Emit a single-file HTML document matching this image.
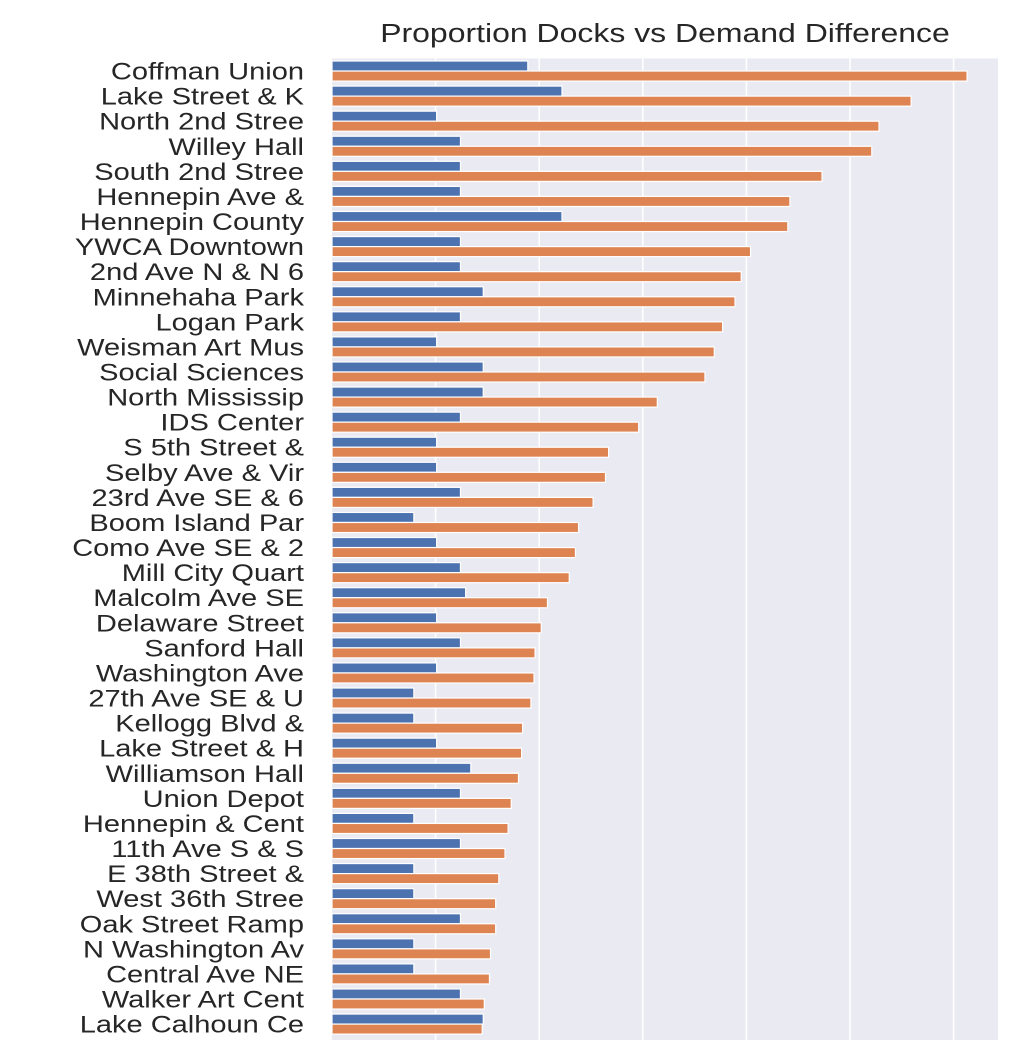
<!DOCTYPE html>
<html><head><meta charset="utf-8"><style>
html,body{margin:0;padding:0;background:#fff;}
svg{display:block;font-family:"Liberation Sans","DejaVu Sans",sans-serif;}
</style></head><body>
<svg id="chart" width="1030" height="1040">
<rect x="332" y="58.5" width="666" height="990" fill="#eaeaf2"/>
<g id="grid"></g><g id="bars"></g><g id="labels"></g>
<text x="665" y="42" text-anchor="middle" font-size="26" fill="#262626" transform="translate(665,0) scale(1.23,1) translate(-665,0)">Proportion Docks vs Demand Difference</text>
</svg>
<script>
const categories=["Coffman Union","Lake Street & K","North 2nd Stree","Willey Hall","South 2nd Stree","Hennepin Ave & ","Hennepin County","YWCA Downtown","2nd Ave N & N 6","Minnehaha Park","Logan Park","Weisman Art Mus","Social Sciences","North Mississip","IDS Center","S 5th Street & ","Selby Ave & Vir","23rd Ave SE & 6","Boom Island Par","Como Ave SE & 2","Mill City Quart","Malcolm Ave SE ","Delaware Street","Sanford Hall","Washington Ave ","27th Ave SE & U","Kellogg Blvd & ","Lake Street & H","Williamson Hall","Union Depot","Hennepin & Cent","11th Ave S & S ","E 38th Street & ","West 36th Stree","Oak Street Ramp","N Washington Av","Central Ave NE ","Walker Art Cent","Lake Calhoun Ce"];
const docksValues=[1.89,2.22,1.01,1.24,1.24,1.24,2.22,1.24,1.24,1.46,1.24,1.01,1.46,1.46,1.24,1.01,1.01,1.24,0.79,1.01,1.24,1.29,1.01,1.24,1.01,0.79,0.79,1.01,1.34,1.24,0.79,1.24,0.79,0.79,1.24,0.79,0.79,1.24,1.46];
const demandValues=[6.13,5.59,5.28,5.21,4.73,4.42,4.40,4.04,3.95,3.89,3.77,3.69,3.60,3.14,2.96,2.67,2.64,2.52,2.38,2.35,2.29,2.08,2.02,1.96,1.95,1.92,1.84,1.83,1.80,1.73,1.70,1.67,1.61,1.58,1.58,1.53,1.52,1.47,1.45];
const gridTicks=[1,2,3,4,5,6];
const NS="http://www.w3.org/2000/svg";
const x0=332,unit=103.6,plotTop=58.5,band=25.08;
const xs=v=>x0+v*unit;
const yc=i=>plotTop+band*(i+0.5);
const grid=document.getElementById('grid'),bars=document.getElementById('bars'),labels=document.getElementById('labels');
gridTicks.forEach(t=>{const l=document.createElementNS(NS,'line');
l.setAttribute('x1',xs(t));l.setAttribute('x2',xs(t));l.setAttribute('y1',58.5);l.setAttribute('y2',1040);
l.setAttribute('stroke','#fff');l.setAttribute('stroke-width','1.6');


grid.appendChild(l);});
const h=band*0.4;
categories.forEach((c,i)=>{
 const b=document.createElementNS(NS,'rect');
 b.setAttribute('x',x0);b.setAttribute('y',yc(i)-h);b.setAttribute('width',xs(docksValues[i])-x0);b.setAttribute('height',h);
 b.setAttribute('fill','#4c72b0');b.setAttribute('stroke','#fff');b.setAttribute('stroke-width','1.2');
 
 
 bars.appendChild(b);
 const o=document.createElementNS(NS,'rect');
 o.setAttribute('x',x0);o.setAttribute('y',yc(i));o.setAttribute('width',xs(demandValues[i])-x0);o.setAttribute('height',h);
 o.setAttribute('fill','#dd8452');o.setAttribute('stroke','#fff');o.setAttribute('stroke-width','1.2');
 
 
 bars.appendChild(o);
 const t=document.createElementNS(NS,'text');
 t.setAttribute('x',304);t.setAttribute('y',yc(i)+8.5);t.setAttribute('text-anchor','end');
 t.setAttribute('font-size','24');t.setAttribute('fill','#262626');
 t.setAttribute('transform','translate(304,0) scale(1.21,1) translate(-304,0)');
 t.textContent=c;
 
 
 labels.appendChild(t);
});
</script>
</body></html>
